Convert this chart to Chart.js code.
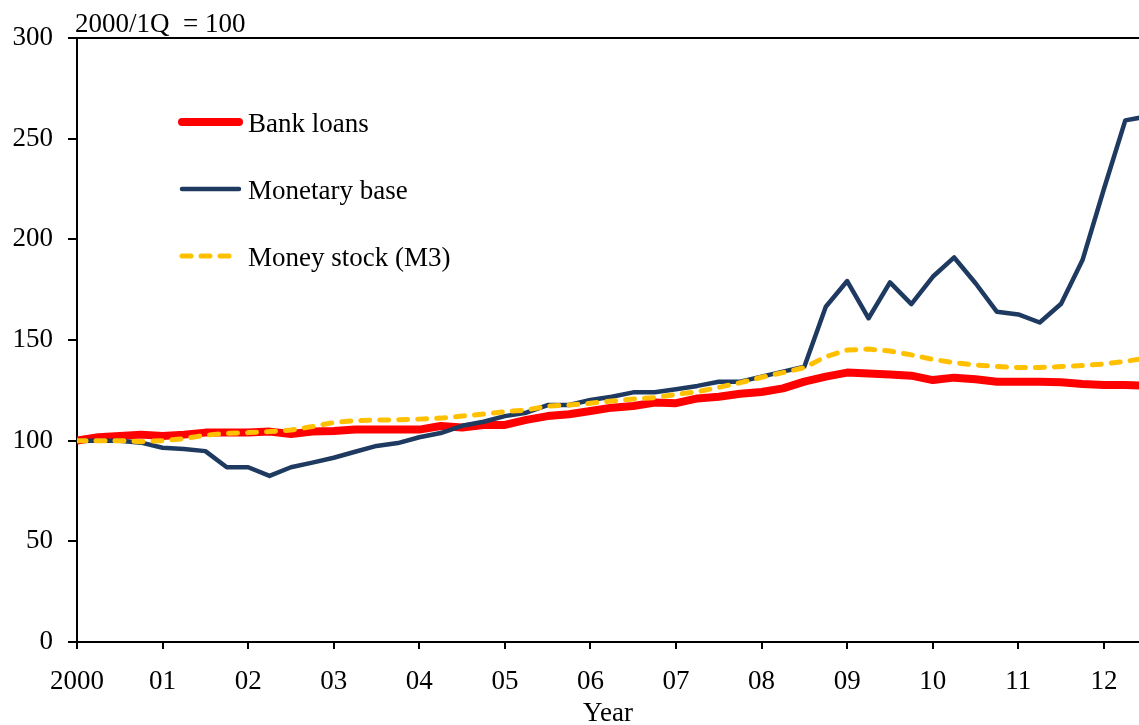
<!DOCTYPE html>
<html>
<head>
<meta charset="utf-8">
<script src="https://cdn.jsdelivr.net/npm/chart.js@4.4.0/dist/chart.umd.min.js"></script>
<style>
  html, body { margin: 0; padding: 0; background: #fff; }
  #wrap { width: 1139px; height: 725px; position: relative; }
</style>
</head>
<body>
<div id="wrap"><canvas id="chart"></canvas></div>
<script>
// quarterly index, 2000/1Q = 100, from 2000Q1 to 2012Q3
const years = [2000, 2001, 2002, 2003, 2004, 2005, 2006, 2007, 2008, 2009, 2010, 2011, 2012];
const lastQuarter = '2012Q3';

const bankLoans = [
  100, 101.7, 102.3, 103,
  102.3, 103, 104, 104,
  104, 104.5, 103.3, 104.5,
  104.8, 105.6, 105.6, 105.6,
  105.5, 107.3, 106.5, 107.8,
  107.8, 110.3, 112.2, 113.1,
  114.7, 116.4, 117.2, 118.9,
  118.6, 121, 121.8, 123.3,
  124.2, 126, 129.3, 131.8,
  133.8, 133.4, 132.9, 132.3,
  130.1, 131.3, 130.5, 129.3,
  129.3, 129.3, 129, 128.1,
  127.6, 127.6, 127.2
];
const monetaryBase = [
  100, 100, 100, 99,
  96.5, 95.9, 94.8, 86.8,
  86.8, 82.5, 86.8, 89.1,
  91.5, 94.5, 97.4, 98.8,
  101.7, 103.8, 107.4, 109.4,
  112.2, 113.9, 117.7, 117.7,
  120.2, 121.8, 124, 124,
  125.5, 127.2, 129.3, 129.3,
  131.8, 134.3, 136.8, 166.5,
  179.3, 160.8, 178.6, 167.8,
  181.4, 191, 178.2, 164,
  162.7, 158.7, 168, 189.7,
  225, 259.1, 261
];
const moneyStock = [
  100, 100, 100, 99.5,
  100, 101, 102.7, 103.6,
  104, 104.5, 105.3, 107,
  109, 110, 110.2, 110.4,
  110.7, 111.2, 112.2, 113.2,
  114.4, 115.2, 117.2, 117.7,
  118.6, 119.7, 120.7, 121.4,
  123, 124.3, 126.5, 128.8,
  131.5, 133.8, 136.3, 141.7,
  145, 145.5, 144.5, 142.6,
  140.4, 138.7, 137.6, 136.8,
  136.3, 136.3, 136.8, 137.3,
  138.1, 139.4, 141
];

const yTicks = [0, 50, 100, 150, 200, 250, 300];
const unitNote = '2000/1Q  = 100';
const xTitle = 'Year';

// quarter labels -> position on a year axis
let quarters = [];
for (const y of years) {
  for (let q = 1; q <= 4; q++) quarters.push(y + 'Q' + q);
}
quarters = quarters.slice(0, quarters.indexOf(lastQuarter) + 1);
const xPos = quarters.map(s => Number(s.slice(0, 4)) + (Number(s.slice(5)) - 1) / 4);
const toPoints = vals => vals.map((v, i) => ({x: xPos[i], y: v}));

const FONT = '"Liberation Serif", "Times New Roman", serif';
const SIZE = 27;
Chart.defaults.font.family = FONT;
Chart.defaults.font.size = SIZE;
Chart.defaults.color = '#000';

const legendY = [122, 189, 256];

const notes = {
  id: 'notes',
  afterDraw(chart) {
    const {ctx, chartArea} = chart;
    ctx.save();
    ctx.strokeStyle = '#000';
    ctx.lineWidth = 2;
    ctx.beginPath();
    ctx.moveTo(chartArea.left, chartArea.top);
    ctx.lineTo(chartArea.right, chartArea.top);
    ctx.stroke();

    ctx.fillStyle = '#000';
    ctx.font = SIZE + 'px ' + FONT;
    ctx.textBaseline = 'alphabetic';
    ctx.fillText(unitNote, 75, 32);

    chart.data.datasets.forEach((ds, i) => {
      const y = legendY[i];
      ctx.strokeStyle = ds.borderColor;
      ctx.lineWidth = ds.borderWidth;
      ctx.lineCap = 'round';
      ctx.setLineDash(ds.borderDash || []);
      ctx.beginPath();
      ctx.moveTo(182, y);
      ctx.lineTo(ds.borderDash ? 235 : 239, y);
      ctx.stroke();
      ctx.setLineDash([]);
      ctx.fillText(ds.label, 248, y + 10);
    });
    ctx.restore();
  }
};

new Chart(document.getElementById('chart'), {
  type: 'line',
  data: {
    datasets: [{
      label: 'Bank loans',
      data: toPoints(bankLoans),
      borderColor: '#ff0000',
      borderWidth: 8,
      order: 3
    }, {
      label: 'Monetary base',
      data: toPoints(monetaryBase),
      borderColor: '#1f3a60',
      borderWidth: 4.5,
      order: 2
    }, {
      label: 'Money stock (M3)',
      data: toPoints(moneyStock),
      borderColor: '#ffc000',
      borderWidth: 5,
      borderDash: [9, 10],
      borderCapStyle: 'round',
      order: 1
    }]
  },
  options: {
    responsive: true,
    maintainAspectRatio: false,
    animation: false,
    elements: {
      point: {radius: 0},
      line: {tension: 0, fill: false, borderJoinStyle: 'round'}
    },
    layout: {padding: {top: 38, left: 0, right: 0, bottom: 0}},
    plugins: {legend: {display: false}, tooltip: {enabled: false}},
    scales: {
      x: {
        type: 'linear',
        min: 2000,
        max: 2012.41,
        afterFit: s => { s.height = 83; },
        grid: {drawOnChartArea: false, drawTicks: true, tickLength: 7, color: '#000', lineWidth: 2},
        border: {display: true, color: '#000', width: 2},
        ticks: {
          stepSize: 1,
          includeBounds: false,
          autoSkip: false,
          maxRotation: 0,
          padding: 17,
          callback: v => v === years[0] ? String(v) : String(v % 100).padStart(2, '0')
        },
        title: {display: true, text: xTitle, font: {size: SIZE, lineHeight: 0.8}, padding: {top: 0, bottom: 0}}
      },
      y: {
        min: 0,
        max: 300,
        afterFit: s => { s.width = 77; },
        afterBuildTicks: s => { s.ticks = yTicks.map(v => ({value: v})); },
        grid: {drawOnChartArea: false, drawTicks: true, tickLength: 9, color: '#000', lineWidth: 2},
        border: {display: true, color: '#000', width: 2},
        ticks: {padding: 15}
      }
    }
  },
  plugins: [notes]
});
</script>
</body>
</html>
